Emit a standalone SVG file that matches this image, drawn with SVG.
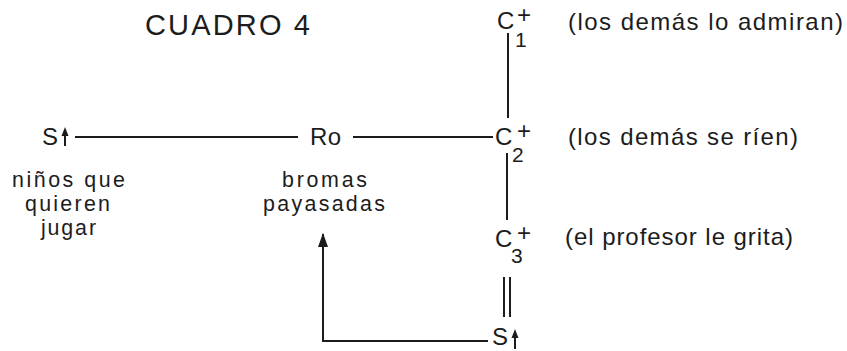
<svg xmlns="http://www.w3.org/2000/svg" width="847" height="351" viewBox="0 0 847 351">
<defs>
<style>
text{font-family:"Liberation Sans",Arial,sans-serif;fill:#1c1c1c;font-size:24px}
.t{font-size:29px}
.sub{font-size:21px}
.lbl{font-size:21.4px}
.ln{stroke:#1c1c1c;stroke-width:2;fill:none}
.ah{fill:#1c1c1c}
</style>
<marker id="arr" markerWidth="14" markerHeight="10" refX="13" refY="5" orient="auto" markerUnits="userSpaceOnUse" viewBox="0 0 14 10">
<path d="M0,0 L14,5 L0,10 Z" class="ah"/>
</marker>
</defs>
<rect width="847" height="351" fill="#fff"/>
<g id="title"><text class="t" x="145" y="35" textLength="165">CUADRO 4</text></g>

<g id="connectors">
<line class="ln" x1="75" y1="137" x2="298" y2="137"/>
<line class="ln" x1="353" y1="137" x2="493" y2="137"/>
<line class="ln" x1="508" y1="33" x2="508" y2="118"/>
<line class="ln" x1="507" y1="153" x2="507" y2="220"/>
<line class="ln" x1="504" y1="277" x2="504" y2="317"/>
<line class="ln" x1="510" y1="277" x2="510" y2="317"/>
<polyline class="ln" points="488,341 323,341 323,234" marker-end="url(#arr)"/>
</g>

<g id="S1">
<text x="42" y="145">S</text>
<line class="ln" x1="65" y1="146" x2="65" y2="133"/>
<path class="ah" d="M65,127 L68.5,136 L61.5,136 Z"/>
<text class="lbl" x="12" y="187" textLength="113">niños que</text>
<text class="lbl" x="25" y="211" textLength="85">quieren</text>
<text class="lbl" x="41" y="235" textLength="55">jugar</text>
</g>

<g id="Ro">
<text x="310" y="145" textLength="31">Ro</text>
<text class="lbl" x="282" y="187" textLength="85">bromas</text>
<text class="lbl" x="263" y="211" textLength="122">payasadas</text>
</g>

<g id="C1">
<text x="497" y="29">C</text>
<text x="517" y="23">+</text>
<text class="sub" x="515" y="47">1</text>
<text x="568" y="30" textLength="275">(los demás lo admiran)</text>
</g>

<g id="C2">
<text x="495" y="145">C</text>
<text x="517" y="139">+</text>
<text class="sub" x="512" y="162">2</text>
<text x="568" y="145" textLength="230">(los demás se ríen)</text>
</g>

<g id="C3">
<text x="495" y="247">C</text>
<text x="517" y="241">+</text>
<text class="sub" x="511" y="263">3</text>
<text x="565" y="245" textLength="228">(el profesor le grita)</text>
</g>

<g id="S2">
<text x="492" y="345">S</text>
<line class="ln" x1="515" y1="349" x2="515" y2="335"/>
<path class="ah" d="M515,329 L518.5,338 L511.5,338 Z"/>
</g>
</svg>
